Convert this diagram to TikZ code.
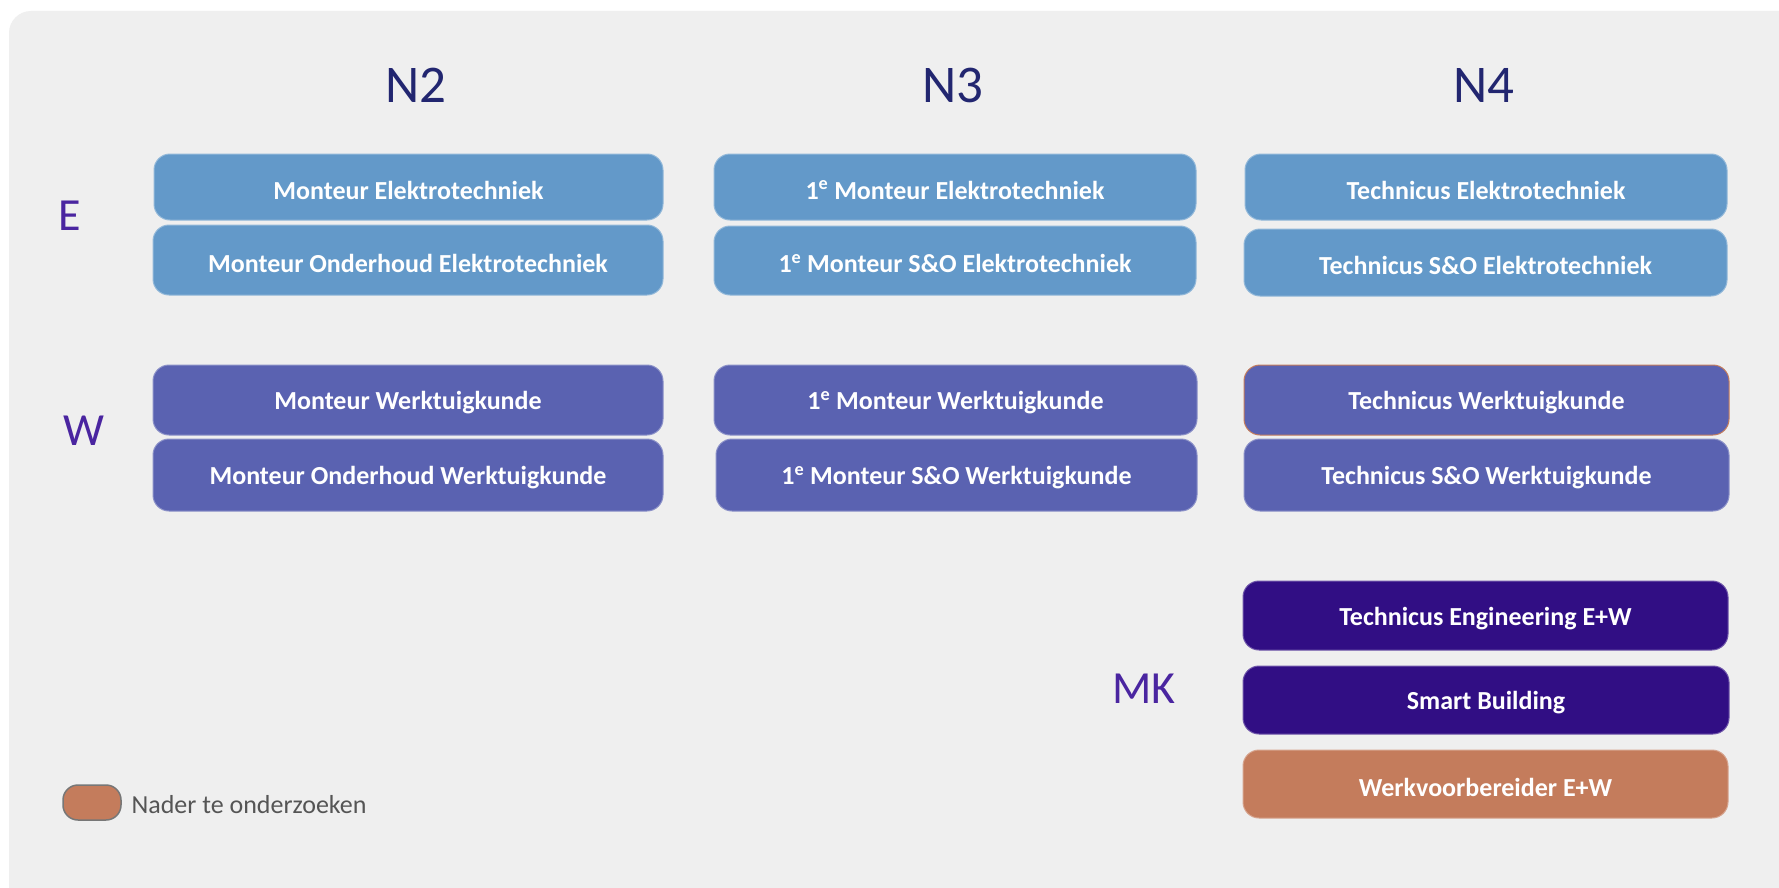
\documentclass[tikz,border=0pt]{standalone}
\usepackage{fontspec}
\setmainfont{Carlito}
\definecolor{bgc}{HTML}{EFEFEF}
\definecolor{eblue}{HTML}{6399C9}
\definecolor{wblue}{HTML}{5A62B1}
\definecolor{mkpurple}{HTML}{310E84}
\definecolor{orng}{HTML}{C47C5C}
\definecolor{headc}{HTML}{222670}
\definecolor{rowc}{HTML}{4A25A0}
\definecolor{legc}{HTML}{555555}
\tikzset{
  box/.style={rounded corners=16pt, line width=1pt},
  boxtext/.style={text=white, font=\fontsize{26}{30}\selectfont\bfseries, inner sep=0pt, yshift=-3pt},
  ebox/.style={box, fill=eblue, draw=eblue!70!white},
  wbox/.style={box, fill=wblue, draw=wblue!70!white},
  mkbox/.style={box, fill=mkpurple, draw=mkpurple!70!white},
  obox/.style={box, fill=orng, draw=orng!70!white},
  head/.style={text=headc, font=\fontsize{53}{60}\selectfont},
  rowlab/.style={text=rowc, font=\fontsize{46}{52}\selectfont},
}
\begin{document}
\begin{tikzpicture}[x=1pt,y=-1pt]
\useasboundingbox (0,0) rectangle (1779,888);
\fill[white] (0,0) rectangle (1779,888);
\fill[bgc, rounded corners=22pt] (9,11) rectangle (1830,940);
% headings
\node[head] (n2) at (416,85) {N2};
\node[head] (n3) at (953,85) {N3};
\node[head] (n4) at (1484,85) {N4};
% row labels
\node[rowlab] (e) at (70,216) {E};
\node[rowlab] (w) at (84,431) {W};
\node[rowlab] (mk) at (1144,689) {MK};
% E row
\draw[ebox] (154,154) rectangle (663,220) node[midway, boxtext] (e21) {Monteur Elektrotechniek};
\draw[ebox] (153,225) rectangle (663,295) node[midway, boxtext] (e22) {Monteur Onderhoud Elektrotechniek};
\draw[ebox] (714,154) rectangle (1196,220) node[midway, boxtext] (e31) {1\textsuperscript{e} Monteur Elektrotechniek};
\draw[ebox] (714,226) rectangle (1196,295) node[midway, boxtext] (e32) {1\textsuperscript{e} Monteur S\&O Elektrotechniek};
\draw[ebox] (1245,154) rectangle (1727,220) node[midway, boxtext] (e41) {Technicus Elektrotechniek};
\draw[ebox] (1244,229) rectangle (1727,296) node[midway, boxtext] (e42) {Technicus S\&O Elektrotechniek};
% W row
\draw[wbox] (153,365) rectangle (663,435) node[midway, boxtext] (w21) {Monteur Werktuigkunde};
\draw[wbox] (153,439) rectangle (663,511) node[midway, boxtext] (w22) {Monteur Onderhoud Werktuigkunde};
\draw[wbox] (714,365) rectangle (1197,435) node[midway, boxtext] (w31) {1\textsuperscript{e} Monteur Werktuigkunde};
\draw[wbox] (716,439) rectangle (1197,511) node[midway, boxtext] (w32) {1\textsuperscript{e} Monteur S\&O Werktuigkunde};
\draw[wbox, draw=orng] (1244,365) rectangle (1729,435) node[midway, boxtext] (w41) {Technicus Werktuigkunde};
\draw[wbox] (1244,439) rectangle (1729,511) node[midway, boxtext] (w42) {Technicus S\&O Werktuigkunde};
% MK
\draw[mkbox] (1243,581) rectangle (1728,650) node[midway, boxtext] (mk1) {Technicus Engineering E+W};
\draw[mkbox] (1243,666) rectangle (1729,734) node[midway, boxtext] (mk2) {Smart Building};
\draw[obox] (1243,750) rectangle (1728,818) node[midway, boxtext] (mk3) {Werkvoorbereider E+W};
% legend
\draw[fill=orng, draw=legc!80, line width=1.5pt, rounded corners=15pt] (63,785) rectangle (121,820) node[midway] (leg) {};
\node[anchor=west, text=legc, font=\fontsize{26}{30}\selectfont] (legt) at (128,805) {Nader te onderzoeken};
\end{tikzpicture}
\end{document}
